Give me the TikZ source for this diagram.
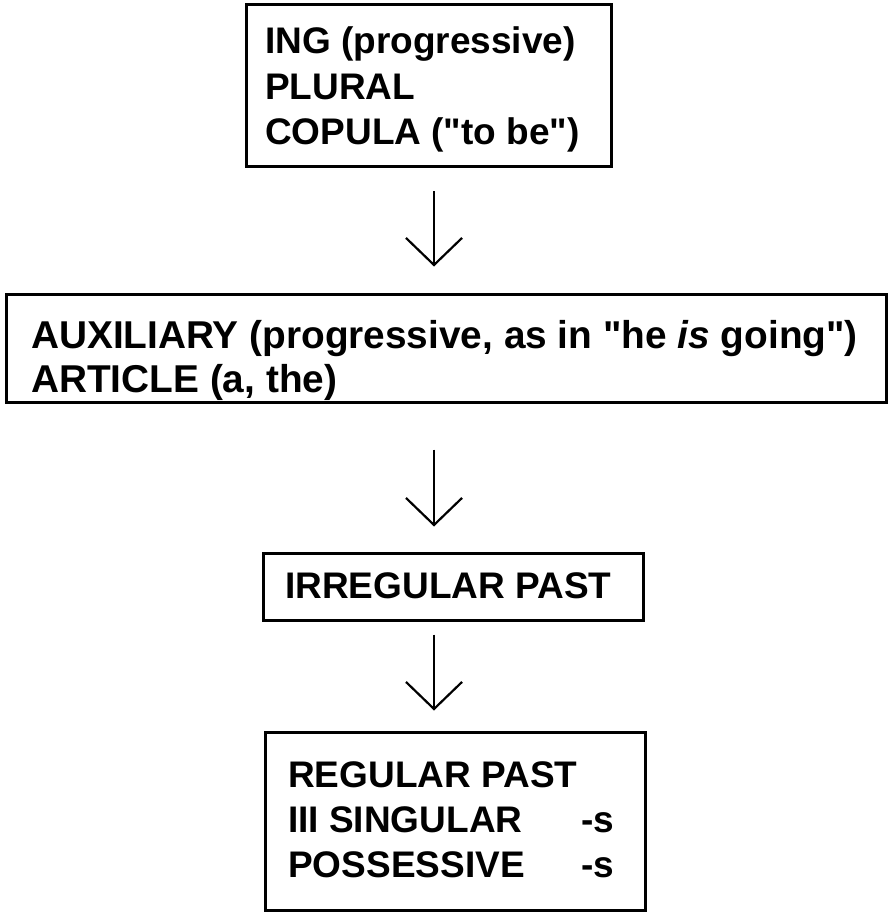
\documentclass[tikz,border=0pt]{standalone}
\usepackage{fontspec}
\setmainfont{Liberation Sans}
\newfontfamily\plainsans{Liberation Sans}[Ligatures=TeXOff]
\usetikzlibrary{arrows.meta}
\newcommand{\dq}{{\plainsans\symbol{34}}}
\begin{document}
\begin{tikzpicture}[x=1pt,y=-1pt,
  box/.style={draw=black,line width=3pt,minimum width=#1,inner sep=0pt},
  txt/.style={anchor=base west,inner sep=0pt,font=\fontsize{37}{45}\selectfont\bfseries},
  wtxt/.style={txt,font=\fontsize{38.8}{45}\selectfont\bfseries},
  arr/.style={line width=2.2pt,-{Straight Barb[length=27pt,width=56pt,line width=2.2pt]}}]
\useasboundingbox (0,0) rectangle (893,917);
\fill[white] (0,0) rectangle (893,917);
% boxes
\node[box=365pt,minimum height=162pt] (b1) at (428.5,86) {};
\node[box=880pt,minimum height=108pt] (b2) at (446,348) {};
\node[box=380pt,minimum height=67pt] (b3) at (453,586.5) {};
\node[box=380pt,minimum height=178pt] (b4) at (455,821) {};
% texts
\node[txt] (t11) at (265,54) {ING (progressive)};
\node[txt] (t12) at (265,100) {PLURAL};
\node[txt] (t13) at (265,145) {COPULA (\dq to be\dq)};
\node[wtxt] (t21) at (31,348) {AUXILIARY (progressive, as in \dq he \textit{is} going\dq)};
\node[wtxt] (t22) at (31,392) {ARTICLE (a, the)};
\node[txt] (t31) at (285,598) {IRREGULAR PAST};
\node[txt] (t41) at (288,787) {REGULAR PAST};
\node[txt] (t42) at (288,832) {III SINGULAR};
\node[txt] (t43) at (288,877) {POSSESSIVE};
\node[txt] (s42) at (581,832) {-s};
\node[txt] (s43) at (581,877) {-s};
% arrows
\coordinate (ax) at (434,0);
\draw[arr,shorten <=23pt,shorten >=26pt] (b1.south -| ax) -- (b2.north -| ax);
\draw[arr,shorten <=46pt,shorten >=25pt] (b2.south -| ax) -- (b3.north -| ax);
\draw[arr,shorten <=13pt,shorten >=20pt] (b3.south -| ax) -- (b4.north -| ax);
\end{tikzpicture}
\end{document}
